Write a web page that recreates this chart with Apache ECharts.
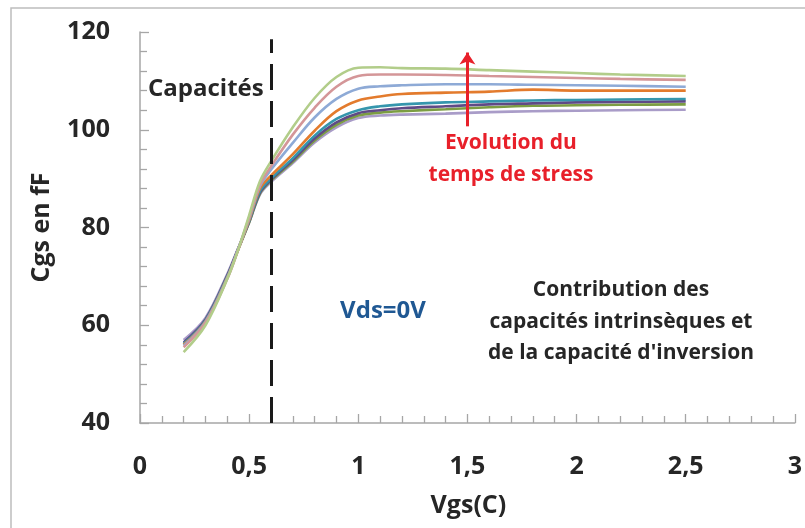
<!DOCTYPE html>
<html>
<head>
<meta charset="utf-8">
<script src="https://cdn.jsdelivr.net/npm/echarts@6/dist/echarts.min.js"></script>
<style>
  html, body { margin: 0; padding: 0; background: #fff; }
  #chart { width: 805px; height: 528px; }
</style>
</head>
<body>
<div id="chart"></div>
<script>
// Gate voltage sweep (V)
const vgs = [0.2, 0.3, 0.4, 0.45, 0.5, 0.55, 0.6, 0.7, 0.8, 0.9, 1.0, 1.1, 1.2, 1.4, 1.6, 1.8, 2.0, 2.2, 2.5];

// Cgs (fF) for each stress duration, longest stress first
const cgsStress8 = [54.5, 60.0, 69.5, 75.5, 82.5, 89.5, 93.5, 100.5, 106.5, 110.8, 112.7, 112.8, 112.6, 112.5, 112.2, 111.9, 111.6, 111.3, 111.0];
const cgsStress7 = [55.5, 60.5, 69.5, 75.5, 82.0, 88.8, 92.5, 99.0, 104.5, 108.8, 111.0, 111.3, 111.3, 111.2, 111.0, 110.8, 110.6, 110.4, 110.2];
const cgsStress6 = [55.8, 60.7, 69.7, 75.6, 81.8, 88.5, 91.8, 97.3, 102.5, 106.3, 108.4, 108.9, 109.1, 109.3, 109.3, 109.2, 109.1, 109.0, 108.8];
const cgsStress5 = [56.0, 60.8, 69.8, 75.5, 81.5, 88.0, 90.6, 95.0, 99.8, 103.8, 106.0, 106.8, 107.3, 107.6, 107.8, 108.2, 108.0, 108.0, 108.0];
const cgsStress4 = [56.2, 61.0, 70.0, 75.6, 81.3, 87.5, 90.0, 94.2, 98.8, 102.2, 104.0, 104.8, 105.2, 105.6, 105.8, 106.0, 106.1, 106.2, 106.3];
const cgsStress3 = [56.5, 61.2, 70.2, 75.7, 81.2, 87.2, 89.8, 93.8, 98.2, 101.5, 103.4, 104.0, 104.4, 104.8, 105.2, 105.4, 105.6, 105.7, 105.8];
const cgsStress2 = [56.0, 61.0, 70.0, 75.5, 81.0, 87.0, 89.6, 93.5, 97.8, 101.0, 102.9, 103.5, 103.8, 104.2, 104.6, 104.9, 105.0, 105.1, 105.2];
const cgsStress1 = [57.0, 61.5, 70.5, 75.8, 81.0, 86.8, 89.3, 93.2, 97.4, 100.5, 102.4, 102.9, 103.1, 103.3, 103.6, 103.8, 103.9, 104.0, 104.1];

const curves = [
  { values: cgsStress1, color: '#a99cc8' },
  { values: cgsStress2, color: '#7c9d43' },
  { values: cgsStress3, color: '#5f4a86' },
  { values: cgsStress4, color: '#3596ad' },
  { values: cgsStress5, color: '#e37b2d' },
  { values: cgsStress6, color: '#8eaad6' },
  { values: cgsStress7, color: '#d49698' },
  { values: cgsStress8, color: '#b2cd8a' }
];

// Vertical marker at Vgs = 0.6 V and arrow showing increasing stress time
const markerVgs = 0.6;
const arrowVgs = 1.5;
const arrowFrom = 100.7;
const arrowTo = 115.8;

const xTicks = [0, 0.5, 1, 1.5, 2, 2.5, 3];
const yTicks = [40, 60, 80, 100, 120];

const FONT = '"Open Sans", Lato, sans-serif';
const INK = '#262626';
const chart = echarts.init(document.getElementById('chart'), null, { renderer: 'canvas' });

const series = curves.map(c => ({
  type: 'line',
  data: vgs.map((x, i) => [x, c.values[i]]),
  smooth: 0.35,
  showSymbol: false,
  lineStyle: { color: c.color, width: 2.6 },
  silent: true,
  z: 3
}));

// Overlay series carrying the dashed marker and the red arrow
series.push({
  type: 'line',
  data: [],
  silent: true,
  markLine: {
    silent: true,
    animation: false,
    label: { show: false },
    data: [
      [
        { coord: [markerVgs, 40], symbol: 'none', lineStyle: { color: '#1a1a1a', width: 3, type: [26, 11] } },
        { coord: [markerVgs, 118.5], symbol: 'none' }
      ],
      [
        { coord: [arrowVgs, arrowFrom], symbol: 'none', lineStyle: { color: '#e8202a', width: 3, type: 'solid' } },
        { coord: [arrowVgs, arrowTo], symbol: 'arrow', symbolSize: [12, 12] }
      ]
    ]
  },
  z: 5
});

const option = {
  animation: false,
  grid: { left: 140, right: 10, top: 32, bottom: 105 },
  xAxis: {
    type: 'value',
    min: xTicks[0],
    max: xTicks[xTicks.length - 1],
    interval: 0.5,
    name: 'Vgs(C)',
    nameLocation: 'middle',
    nameGap: 70,
    nameTextStyle: { fontFamily: FONT, fontWeight: 'bold', fontSize: 25, color: INK, padding: [0, 0, 0, 2] },
    axisLine: { show: true, lineStyle: { color: '#a6a6a6', width: 1.5 } },
    axisTick: { show: true, inside: true, length: 9, lineStyle: { color: '#a6a6a6', width: 1.3 } },
    minorTick: { show: true, splitNumber: 5, length: 7, lineStyle: { color: '#a6a6a6', width: 1.3 } },
    splitLine: { show: false },
    axisLabel: {
      margin: 31,
      fontFamily: FONT, fontWeight: 'bold', fontSize: 25, color: INK,
      formatter: v => String(v).replace('.', ',')
    }
  },
  yAxis: {
    type: 'value',
    min: yTicks[0],
    max: yTicks[yTicks.length - 1],
    interval: 20,
    name: 'Cgs en fF',
    nameLocation: 'middle',
    nameGap: 86,
    nameRotate: 90,
    nameTextStyle: { fontFamily: FONT, fontWeight: 'bold', fontSize: 25, color: INK },
    axisLine: { show: true, lineStyle: { color: '#a6a6a6', width: 1.5 } },
    axisTick: { show: true, inside: true, length: 9, lineStyle: { color: '#a6a6a6', width: 1.3 } },
    minorTick: { show: true, splitNumber: 5, length: 7, lineStyle: { color: '#a6a6a6', width: 1.3 } },
    splitLine: { show: false },
    axisLabel: { margin: 30, fontFamily: FONT, fontWeight: 'bold', fontSize: 25, color: INK }
  },
  series: series,
  graphic: [
    { type: 'polyline', shape: { points: [[11, 528], [11, 8], [805, 8]] }, style: { stroke: '#bdbdbd', lineWidth: 1.5, fill: null }, silent: true },
    { type: 'text', x: 148, y: 89, style: { text: 'Capacités', font: 'bold 24px ' + FONT, fill: INK, verticalAlign: 'middle' } },
    { type: 'text', x: 383, y: 311, style: { text: 'Vds=0V', font: 'bold 24px ' + FONT, fill: '#1f5893', align: 'center', verticalAlign: 'middle' } },
    { type: 'text', x: 511, y: 159, style: { text: 'Evolution du\ntemps de stress', font: 'bold 21px ' + FONT, fill: '#e8202a', align: 'center', verticalAlign: 'middle', lineHeight: 32 } },
    { type: 'text', x: 621, y: 322, style: { text: 'Contribution des\ncapacités intrinsèques et\nde la capacité d\'inversion', font: 'bold 21px ' + FONT, fill: INK, align: 'center', verticalAlign: 'middle', lineHeight: 31.5 } }
  ]
};

chart.setOption(option);
</script>
</body>
</html>
